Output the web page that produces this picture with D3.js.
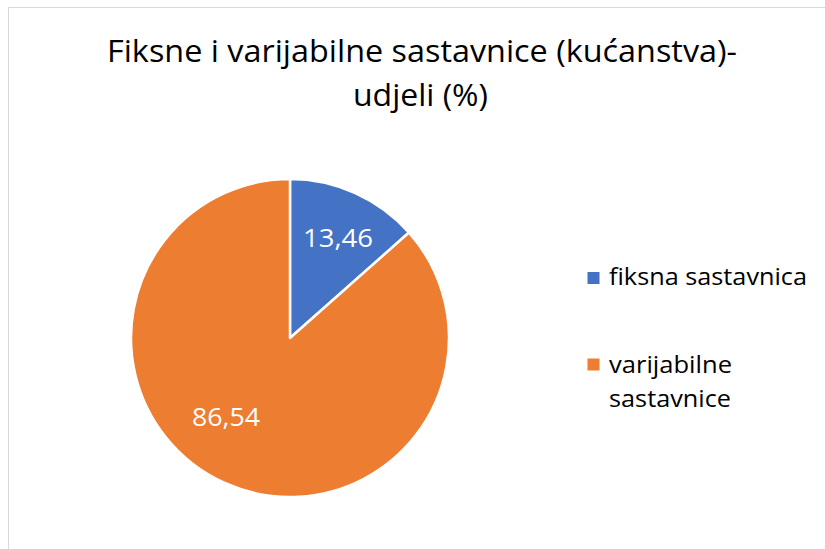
<!DOCTYPE html>
<html>
<head>
<meta charset="utf-8">
<script src="https://cdn.jsdelivr.net/npm/d3@7"></script>
<style>
  body { margin: 0; background: #fff; }
  text { font-family: "Open Sans", Lato, sans-serif; font-weight: 400; }
</style>
</head>
<body>
<svg id="chart" width="825" height="549"></svg>
<script>
const titleLines = ["Fiksne i varijabilne sastavnice (kućanstva)-", "udjeli (%)"];
const categories = ["fiksna sastavnica", "varijabilne sastavnice"];
const values = [13.46, 86.54];
const valueLabels = ["13,46", "86,54"];
const legendLines = [["fiksna sastavnica"], ["varijabilne", "sastavnice"]];
const colors = ["#4472c4", "#ed7d31"];

const svg = d3.select("#chart");

// squeeze a text to the width it has in the (Calibri) reference
function fitWidth(sel, w) {
    sel.attr("textLength", w).attr("lengthAdjust", "spacingAndGlyphs");
}

// chart area border
svg.append("rect")
    .attr("x", 8.5).attr("y", 7.5)
    .attr("width", 900).attr("height", 600)
    .attr("fill", "#fff")
    .attr("stroke", "#d9d9d9")
    .attr("stroke-width", 1);

// title
const titleWidths = [630, 135];
const titleBase = [62, 106];
const titleX = [422, 420.5];
titleLines.forEach((t, i) => {
    svg.append("text")
        .attr("text-anchor", "middle")
        .attr("x", titleX[i])
        .attr("y", titleBase[i])
        .attr("fill", "#000")
        .style("font-size", "31px")
        .text(t)
        .call(fitWidth, titleWidths[i]);
});

// pie
const cx = 290, cy = 338, radius = 159;
const pie = d3.pie().sort(null).value(d => d);
const arc = d3.arc().innerRadius(0).outerRadius(radius);

const g = svg.append("g").attr("transform", `translate(${cx},${cy})`);
const arcs = pie(values);

g.selectAll("path")
    .data(arcs)
    .enter()
    .append("path")
    .attr("d", arc)
    .attr("fill", (d, i) => colors[i])
    .attr("stroke", "#fff")
    .attr("stroke-width", 2.5)
    .attr("stroke-linejoin", "round");

const labelWidths = [70, 68];
const labelPos = [[338, 247], [226, 426]];
g.selectAll(".lbl")
    .data(arcs)
    .enter()
    .append("text")
    .attr("class", "lbl")
    .attr("text-anchor", "middle")
    .attr("x", (d, i) => labelPos[i][0] - cx)
    .attr("y", (d, i) => labelPos[i][1] - cy)
    .attr("fill", "#fff")
    .style("font-size", "26px")
    .text((d, i) => valueLabels[i])
    .each(function (d, i) { d3.select(this).call(fitWidth, labelWidths[i]); });

// legend
const legendRectY = [272, 358.5];
const legendBase = [[285], [372.7, 406.7]];
const legendWidths = [[198], [123, 122]];
const legend = svg.append("g");
categories.forEach((c, i) => {
    legend.append("rect")
        .attr("x", 587.5).attr("y", legendRectY[i])
        .attr("width", 12).attr("height", 12)
        .attr("fill", colors[i]);
    legendLines[i].forEach((line, j) => {
        legend.append("text")
            .attr("x", 609)
            .attr("y", legendBase[i][j])
            .attr("fill", "#000")
            .style("font-size", "24px")
            .text(line)
            .call(fitWidth, legendWidths[i][j]);
    });
});
</script>
</body>
</html>
